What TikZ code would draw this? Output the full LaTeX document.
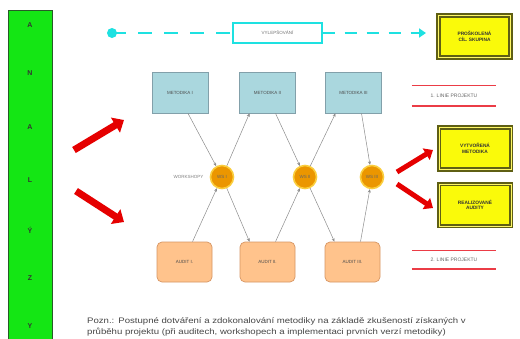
\documentclass[tikz,border=0pt]{standalone}
\usepackage{fontspec}
\setmainfont{Liberation Sans}
\newfontfamily\capfont[FakeStretch=1.2]{Liberation Sans}
\usetikzlibrary{arrows.meta}
\definecolor{grn}{RGB}{20,230,20}
\definecolor{grnd}{RGB}{40,90,40}
\definecolor{cyn}{RGB}{30,225,225}
\definecolor{blu}{RGB}{170,215,222}
\definecolor{blud}{RGB}{130,160,170}
\definecolor{org}{RGB}{255,195,140}
\definecolor{orgd}{RGB}{215,150,100}
\definecolor{ylw}{RGB}{250,250,10}
\definecolor{olv}{RGB}{95,95,20}
\definecolor{ws}{RGB}{235,150,0}
\definecolor{wsglow}{RGB}{250,205,60}
\definecolor{redl}{RGB}{235,60,70}
\definecolor{capc}{RGB}{70,70,70}
\tikzset{
  x=1pt,y=-1pt,
  greenbar/.style={draw=grnd,line width=1pt,fill=grn},
  letter/.style={font=\fontsize{7}{8}\selectfont\bfseries,text=black!80},
  metbox/.style={draw=blud,line width=0.7pt,fill=blu,minimum width=56pt,minimum height=41pt,inner sep=1pt,font=\fontsize{4.5}{5}\selectfont,text=black!70},
  audbox/.style={draw=orgd,line width=0.7pt,fill=org,rounded corners=5pt,minimum width=55pt,minimum height=40pt,inner sep=1pt,font=\fontsize{4.5}{5}\selectfont,text=black!70},
  ybox/.style={draw=olv,line width=1.6pt,fill=ylw,double=yellow!60!white,double distance=1pt,minimum width=72pt,minimum height=42pt,align=center,inner sep=1pt,font=\fontsize{4.8}{5.6}\selectfont\bfseries,text=black!80},
  wsnode/.style={circle,fill=ws,draw=wsglow,line width=1.6pt,minimum size=23pt,inner sep=0pt,font=\fontsize{4.5}{5}\selectfont,text=black!60},
  conn/.style={draw=black!45,line width=0.5pt,-{Stealth[length=3.5pt,width=3pt]}},
  fatarrow/.style={draw=red!90!black,line width=7pt,-{Triangle[length=10pt,width=17pt]}},
  smallfat/.style={draw=red!90!black,line width=5pt,-{Triangle[length=8pt,width=13pt]}},
  linelbl/.style={font=\fontsize{5}{6}\selectfont,text=black!60,minimum width=84pt,inner sep=0pt},
  redline/.style={draw=redl,line width=1.6pt},
  cyline/.style={draw=cyn,line width=2.2pt,dash pattern=on 14pt off 12pt},
}
\begin{document}
\begin{tikzpicture}
\useasboundingbox[fill=white] (0,0) rectangle (520,338);
% green ANALYZY bar
\path[greenbar] (8,10) rectangle (52,345);
\foreach \l/\yy [count=\i] in {A/25,N/73,A/127,L/180,Ý/230,Z/278,Y/326}
  \node[letter] (let\i) at (30,\yy) {\l};
% top dashed arrow
\node[draw=cyn,line width=1.2pt,fill=white,minimum width=89pt,minimum height=20pt,font=\fontsize{4.5}{5}\selectfont,text=black!55] (vyl) at (277.5,33) {VYLEPŠOVÁNÍ};
\coordinate (cstart) at (112,33);
\coordinate (cend) at (426,33);
\fill[cyn] (cstart) circle (5pt);
\draw[cyline] (cstart) -- (vyl.west);
\draw[cyline,dash pattern=on 12pt off 10pt] (vyl.east) -- ([xshift=-6pt]cend);
\draw[cyn,line width=2.2pt,-{Triangle[length=7pt,width=9pt]}] ([xshift=-10pt]cend) -- (cend);
% yellow result boxes
\node[ybox] (ycil) at (474.5,36.5) {PROŠKOLENÁ\\CÍL. SKUPINA};
\node[ybox] (ymet) at (475,148.5) {VYTVOŘENÁ\\METODIKA};
\node[ybox] (yaud) at (475,205) {REALIZOVANÉ\\AUDITY};
% methodology boxes
\node[metbox] (m1) at (180,92.5) {METODIKA I};
\node[metbox] (m2) at (267.5,92.5) {METODIKA II};
\node[metbox] (m3) at (353.5,92.5) {METODIKA III};
% audit boxes
\node[audbox] (a1) at (184.5,262) {AUDIT I.};
\node[audbox] (a2) at (267.5,262) {AUDIT II.};
\node[audbox] (a3) at (352.5,262) {AUDIT III.};
% workshops
\node[wsnode] (w1) at (222,177) {WS I};
\node[wsnode] (w2) at (305,177) {WS II};
\node[wsnode] (w3) at (372,177) {WS III};
\node[font=\fontsize{4.5}{5}\selectfont,text=black!50,anchor=east] (wlbl) at (207,177) {WORKSHOPY};
% connectors top
\draw[conn] (m1.south) ++(8,0) -- (w1);
\draw[conn] (w1) -- ([xshift=-18pt]m2.south);
\draw[conn] (m2.south) ++(8,0) -- (w2);
\draw[conn] (w2) -- ([xshift=-18pt]m3.south);
\draw[conn] (m3.south) ++(8,0) -- (w3);
% connectors bottom
\draw[conn] ([xshift=8pt]a1.north) -- (w1);
\draw[conn] (w1) -- ([xshift=-18pt]a2.north);
\draw[conn] ([xshift=8pt]a2.north) -- (w2);
\draw[conn] (w2) -- ([xshift=-18pt]a3.north);
\draw[conn] ([xshift=8pt]a3.north) -- (w3);
% line labels
\node[linelbl,minimum height=21pt] (l1) at (454,95.5) {1. LINIE PROJEKTU};
\draw[redline] ([yshift=-0.5pt]l1.north west) -- ([yshift=-0.5pt]l1.north east);
\draw[redline] ([yshift=0.5pt]l1.south west) -- ([yshift=0.5pt]l1.south east);
\node[linelbl,minimum height=19pt] (l2) at (454,259.5) {2. LINIE PROJEKTU};
\draw[redline] ([yshift=-0.5pt]l2.north west) -- ([yshift=-0.5pt]l2.north east);
\draw[redline] ([yshift=0.5pt]l2.south west) -- ([yshift=0.5pt]l2.south east);
% fat red arrows
\coordinate (ls1) at (74,150);
\coordinate (le1) at (124,120);
\coordinate (ls2) at (76,191);
\coordinate (le2) at (124,222);
\draw[fatarrow] (ls1) -- (le1);
\draw[fatarrow] (ls2) -- (le2);
\coordinate (rs1) at (397,172);
\coordinate (re1) at (433,150);
\coordinate (rs2) at (397,184);
\coordinate (re2) at (433,208);
\draw[smallfat] (rs1) -- (re1);
\draw[smallfat] (rs2) -- (re2);
% caption
\node[anchor=north west,text width=410pt,align=left,font=\capfont\fontsize{8}{11.5}\selectfont,text=capc,inner sep=0pt] (cap) at (87,317) {Pozn.: Postupné dotváření a zdokonalování metodiky na základě zkušeností získaných v\\ průběhu projektu (při auditech, workshopech a implementaci prvních verzí metodiky)};
\end{tikzpicture}
\end{document}
